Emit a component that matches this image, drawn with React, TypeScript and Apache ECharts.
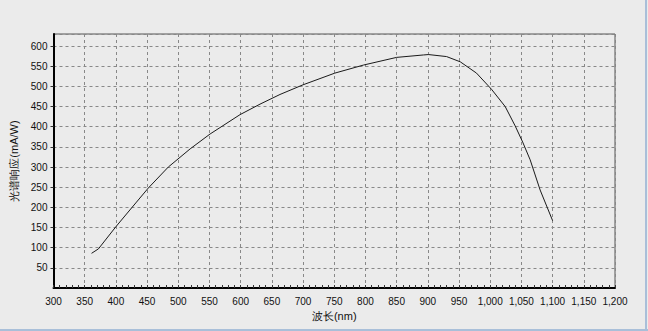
import React, { useEffect, useRef } from "react";
import * as echarts from "echarts";

const wavelength = [361, 372, 400, 433, 452, 484, 519, 551, 599, 631, 663, 700, 751, 797, 850, 893, 901, 930, 952, 978, 1002, 1024, 1040, 1052, 1064, 1080, 1100];
const response = [86, 97, 152, 213, 248, 300, 345, 382, 430, 456, 480, 504, 533, 553, 572, 578, 579, 574, 561, 533, 493, 450, 402, 362, 318, 243, 167];

const xTitle = "波长(nm)";
const yTitle = "光谱响应(mA/W)";

export default function App() {
  const ref = useRef<HTMLDivElement>(null);
  useEffect(() => {
    if (!ref.current) return;
    const chart = echarts.init(ref.current, null, { renderer: "svg" });
    const font = "Liberation Sans, Arial, sans-serif";
    chart.setOption({
      animation: false,
      backgroundColor: "#ebebeb",
      grid: {
        left: 53.5,
        right: 33,
        top: 34,
        bottom: 43,
        show: true,
        borderColor: "#555",
        borderWidth: 1,
        backgroundColor: "transparent",
      },
      xAxis: {
        type: "value",
        min: 300,
        max: 1200,
        interval: 50,
        name: xTitle,
        nameLocation: "middle",
        nameGap: 21,
        nameTextStyle: { fontFamily: font, fontSize: 11, color: "#111" },
        axisLine: { show: true, onZero: false, lineStyle: { color: "#000", width: 2 } },
        axisTick: { show: true, inside: true, length: 3, lineStyle: { color: "#333" } },
        minorTick: { show: true, splitNumber: 5, length: 3, lineStyle: { color: "#333" } },
        axisLabel: {
          fontFamily: font,
          fontSize: 10,
          color: "#111",
          margin: 8,
          formatter: (v: number) => v.toLocaleString("en-US"),
        },
        splitLine: { show: true, lineStyle: { color: "#888", type: [3, 3], width: 1 } },
      },
      yAxis: {
        type: "value",
        min: 0,
        max: 630,
        interval: 50,
        name: yTitle,
        nameLocation: "middle",
        nameGap: 33,
        nameRotate: 90,
        nameTextStyle: { fontFamily: font, fontSize: 11, color: "#111" },
        axisLine: { show: true, lineStyle: { color: "#000", width: 2 } },
        axisTick: { show: true, length: 3, lineStyle: { color: "#333" } },
        axisLabel: {
          fontFamily: font,
          fontSize: 10,
          color: "#111",
          margin: 6,
          showMinLabel: false,
          showMaxLabel: false,
        },
        splitLine: { show: true, lineStyle: { color: "#888", type: [3, 3], width: 1 } },
      },
      graphic: [
        { type: "line", shape: { x1: 646, y1: 0, x2: 646, y2: 331 }, style: { stroke: "#a9bfd9", lineWidth: 2 } },
        { type: "line", shape: { x1: 0, y1: 330, x2: 648, y2: 330 }, style: { stroke: "#a9bfd9", lineWidth: 2 } },
      ],
      series: [
        {
          type: "line",
          data: wavelength.map((w, i) => [w, response[i]]),
          showSymbol: false,
          smooth: false,
          lineStyle: { color: "#1a1a1a", width: 1 },
        },
      ],
    });
    return () => chart.dispose();
  }, []);
  return (
    <div
      ref={ref}
      style={{ position: "absolute", left: 0, top: 0, width: 648, height: 331 }}
    />
  );
}
